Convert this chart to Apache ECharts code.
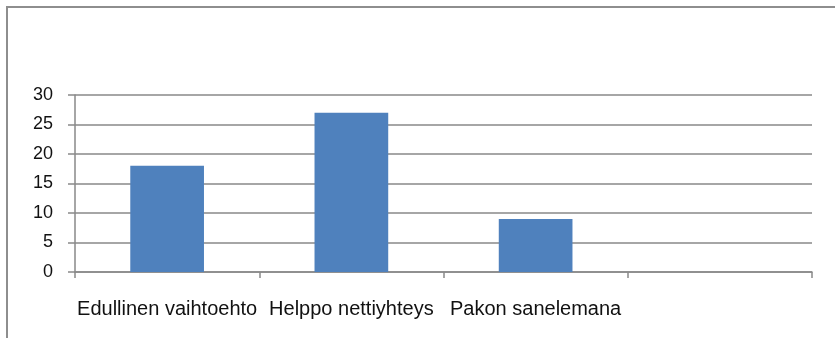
<!DOCTYPE html>
<html>
<head>
<meta charset="utf-8">
<script src="https://cdn.jsdelivr.net/npm/echarts@6/dist/echarts.min.js"></script>
<style>
  html, body { margin: 0; padding: 0; background: #ffffff; }
  #chart { width: 835px; height: 338px; }
</style>
</head>
<body>
<div id="chart"></div>
<script>
// Survey answers: reasons for choosing the option
const categories = ['Edullinen vaihtoehto', 'Helppo nettiyhteys', 'Pakon sanelemana', ''];
const counts = [18, 27, 9, null];
const yTicks = { min: 0, max: 30, interval: 5 };

const chart = echarts.init(document.getElementById('chart'), null, { renderer: 'canvas' });

const axisGrey = '#898989';
const textFont = '"Liberation Sans", "Open Sans", sans-serif';

chart.setOption({
  animation: false,
  backgroundColor: '#ffffff',
  graphic: [{
    type: 'rect',
    shape: { x: 7, y: 7, width: 900, height: 500 },
    style: { fill: 'none', stroke: '#8e8e8e', lineWidth: 2 },
    silent: true
  }],
  grid: { left: 75, right: 23, top: 95, bottom: 66, containLabel: false },
  xAxis: {
    type: 'category',
    data: categories,
    axisLine: { show: true, lineStyle: { color: axisGrey, width: 1.5 } },
    axisTick: { show: true, alignWithLabel: false, length: 6, lineStyle: { color: axisGrey, width: 1.5 } },
    axisLabel: { color: '#111111', fontSize: 20, fontFamily: textFont, margin: 27, interval: 0 },
    splitLine: { show: false }
  },
  yAxis: {
    type: 'value',
    min: yTicks.min,
    max: yTicks.max,
    interval: yTicks.interval,
    axisLine: { show: true, lineStyle: { color: axisGrey, width: 1.5 } },
    axisTick: { show: true, length: 7, lineStyle: { color: axisGrey, width: 1.5 } },
    axisLabel: { color: '#111111', fontSize: 18, fontFamily: textFont, margin: 22 },
    splitLine: { show: true, lineStyle: { color: axisGrey, width: 1.5 } }
  },
  series: [{
    type: 'bar',
    data: counts,
    barWidth: '40%',
    itemStyle: { color: '#4f81bd' }
  }]
});
</script>
</body>
</html>
